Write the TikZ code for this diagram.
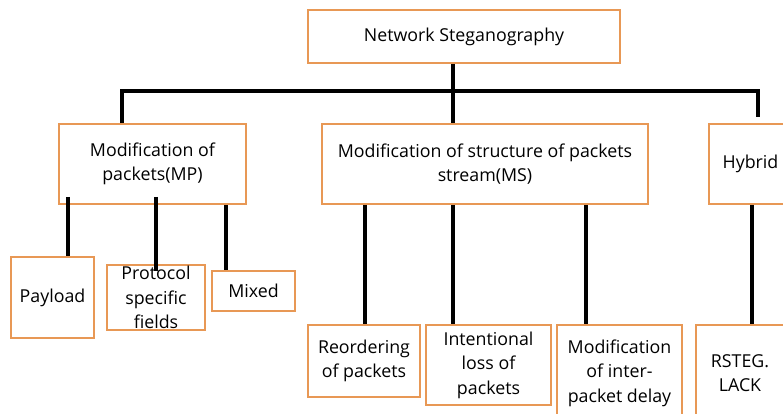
\documentclass[tikz,border=0pt]{standalone}
\usepackage{fontspec}
\setmainfont{Open Sans}
\definecolor{boxorange}{RGB}{232,152,85}
\begin{document}
\begin{tikzpicture}[x=1pt,y=-1pt,
	box/.style={draw=boxorange, line width=1.6pt, align=center, inner sep=0pt,
		font=\fontsize{17.8}{24.5}\selectfont},
	link/.style={line width=3.6pt}]
	\useasboundingbox (0,0) rectangle (783,414);
	\clip (0,0) rectangle (783,414);
	\node[box, minimum width=312pt, minimum height=53pt] (NS) at (464, 36.5) {Network Steganography};
	\node[box, minimum width=187pt, minimum height=80pt] (MP) at (152.5, 164) {Modification of\\packets(MP)};
	\node[box, minimum width=326pt, minimum height=80pt] (MS) at (485, 164) {Modification of structure of packets\\stream(MS)};
	\node[box, minimum width=83pt, minimum height=80pt] (HY) at (750.5, 164) {Hybrid};
	\node[box, minimum width=83pt, minimum height=81pt] (PL) at (52.5, 297.5) {Payload};
	\node[box, minimum width=98pt, minimum height=65pt] (PF) at (156, 297.5) {Protocol\\specific\\fields};
	\node[box, minimum width=83pt, minimum height=40pt] (MX) at (253.5, 291) {Mixed};
	\node[box, minimum width=112pt, minimum height=72pt] (RO) at (364, 361) {Reordering\\of packets};
	\node[box, minimum width=125pt, minimum height=80pt] (IL) at (488.5, 365) {Intentional\\loss of\\packets};
	\node[box, minimum width=125pt, minimum height=96pt] (ID) at (619.5, 373) {Modification\\of inter-\\packet delay};
	\node[box, minimum width=88pt, minimum height=96pt] (RS) at (740, 373) {RSTEG.\\LACK};
	% tree connectors
	\coordinate (busL) at (122, 91);
	\coordinate (busR) at (758, 91);
	\coordinate (stem) at (453, 0);
	\draw[link] (MP.north -| busL) -- (busL) -- (busR) -- ([yshift=6pt]HY.north -| busR);
	\draw[link] (NS.south -| stem) -- (MS.north -| stem);
	\draw[link] ([yshift=8pt]MP.south -| 68,0) -- (PL.north -| 68,0);
	\draw[link] ([yshift=8pt]MP.south -| 156,0) -- ([yshift=-7pt]PF.north -| 156,0);
	\draw[link] (MP.south -| 226,0) -- (MX.north -| 226,0);
	\draw[link] (MS.south -| 365,0) -- (RO.north -| 365,0);
	\draw[link] (MS.south -| stem) -- (IL.north -| stem);
	\draw[link] (MS.south -| 586,0) -- (ID.north -| 586,0);
	\draw[link] (HY.south -| 752,0) -- (RS.north -| 752,0);
\end{tikzpicture}
\end{document}
